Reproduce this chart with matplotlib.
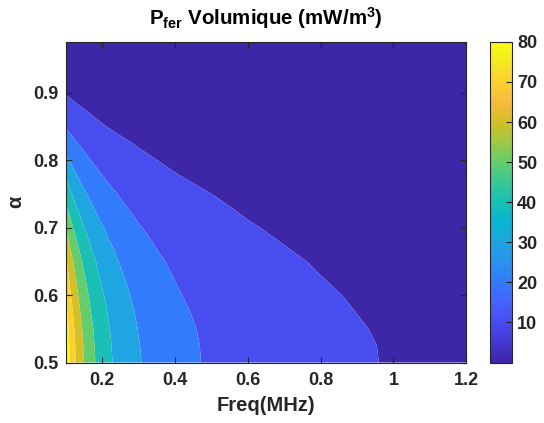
import matplotlib
matplotlib.use('Agg')
import matplotlib.pyplot as plt
import numpy as np
from matplotlib.colors import LinearSegmentedColormap, Normalize
from matplotlib.cm import ScalarMappable

# frequency (MHz) and alpha grid
freq = [0.1, 0.11, 0.12, 0.13, 0.14, 0.15, 0.17, 0.19, 0.22, 0.25, 0.3,
        0.35, 0.4, 0.5, 0.6, 0.7, 0.8, 0.9, 1.0, 1.1, 1.2]
alpha = [0.5, 0.525, 0.55, 0.575, 0.6, 0.625, 0.65, 0.675, 0.7, 0.725, 0.75,
         0.775, 0.8, 0.825, 0.85, 0.875, 0.9, 0.925, 0.95, 0.975]

# P_fer (mW/m^3), one row per alpha value
p_0500 = [88.4, 80.6, 74.1, 68.6, 63.9, 59.8, 53.0, 47.6, 41.3, 36.5, 30.7, 26.4, 23.2, 18.7, 15.7, 13.5, 11.9, 10.6, 9.6, 8.8, 8.1]
p_0525 = [87.2, 79.6, 73.2, 67.7, 63.2, 59.1, 52.4, 47.1, 40.9, 36.2, 30.3, 26.2, 23.0, 18.6, 15.6, 13.4, 11.8, 10.6, 9.5, 8.7, 8.0]
p_0550 = [85.5, 78.0, 71.8, 66.5, 61.9, 57.9, 51.4, 46.1, 40.1, 35.4, 29.7, 25.7, 22.6, 18.2, 15.3, 13.2, 11.6, 10.3, 9.35, 8.5, 7.8]
p_0575 = [82.8, 75.7, 69.6, 64.4, 59.9, 56.1, 49.7, 44.6, 38.8, 34.3, 28.7, 24.8, 21.8, 17.5, 14.7, 12.7, 11.1, 9.95, 9.0, 8.2, 7.5]
p_0600 = [79.6, 72.6, 66.7, 61.7, 57.5, 53.8, 47.6, 42.8, 37.1, 32.8, 27.5, 23.7, 20.8, 16.8, 14.1, 12.1, 10.7, 9.5, 8.6, 7.8, 7.2]
p_0625 = [75.8, 69.0, 63.4, 58.7, 54.7, 51.1, 45.3, 40.6, 35.3, 31.2, 26.1, 22.5, 19.8, 16.0, 13.4, 11.5, 10.1, 9.0, 8.2, 7.45, 6.85]
p_0650 = [71.5, 65.2, 59.9, 55.4, 51.6, 48.2, 42.7, 38.4, 33.3, 29.4, 24.6, 21.2, 18.6, 15.0, 12.6, 10.8, 9.5, 8.5, 7.7, 7.0, 6.4]
p_0675 = [65.7, 60.0, 55.1, 51.0, 47.5, 44.4, 39.3, 35.3, 30.6, 27.1, 22.7, 19.5, 17.1, 13.8, 11.6, 9.96, 8.76, 7.8, 7.05, 6.4, 5.9]
p_0700 = [59.8, 54.5, 50.1, 46.3, 43.1, 40.3, 35.7, 32.0, 27.8, 24.6, 20.6, 17.7, 15.6, 12.5, 10.5, 9.0, 7.9, 7.1, 6.4, 5.8, 5.4]
p_0725 = [53.0, 48.2, 44.4, 41.1, 38.2, 35.8, 31.7, 28.5, 24.7, 21.8, 18.3, 15.8, 13.9, 11.2, 9.4, 8.1, 7.1, 6.3, 5.7, 5.2, 4.8]
p_0750 = [46.3, 42.2, 38.9, 36.0, 33.6, 31.4, 27.9, 25.1, 21.8, 19.3, 16.2, 14.0, 12.3, 10.0, 8.4, 7.2, 6.4, 5.7, 5.2, 4.7, 4.3]
p_0775 = [39.5, 36.0, 33.1, 30.7, 28.5, 26.7, 23.7, 21.3, 18.5, 16.3, 13.7, 11.8, 10.4, 8.35, 7.0, 6.0, 5.3, 4.7, 4.3, 3.9, 3.6]
p_0800 = [32.7, 29.9, 27.5, 25.5, 23.8, 22.3, 19.8, 17.9, 15.6, 13.8, 11.6, 10.0, 8.9, 7.2, 6.1, 5.2, 4.6, 4.1, 3.7, 3.4, 3.1]
p_0825 = [25.9, 23.7, 21.9, 20.3, 19.0, 17.8, 15.8, 14.3, 12.5, 11.1, 9.4, 8.1, 7.2, 5.8, 4.9, 4.3, 3.8, 3.4, 3.1, 2.8, 2.6]
p_0850 = [19.3, 17.7, 16.4, 15.3, 14.3, 13.5, 12.1, 10.9, 9.6, 8.6, 7.3, 6.4, 5.7, 4.6, 3.9, 3.4, 3.1, 2.8, 2.5, 2.3, 2.1]
p_0875 = [14.3, 13.2, 12.2, 11.4, 10.7, 10.1, 9.0, 8.2, 7.2, 6.4, 5.5, 4.8, 4.3, 3.5, 3.0, 2.6, 2.3, 2.1, 1.9, 1.8, 1.6]
p_0900 = [9.3, 8.6, 7.9, 7.4, 7.0, 6.6, 5.9, 5.4, 4.7, 4.3, 3.6, 3.2, 2.9, 2.4, 2.0, 1.8, 1.6, 1.4, 1.3, 1.2, 1.1]
p_0925 = [5.8, 5.4, 5.0, 4.7, 4.4, 4.1, 3.7, 3.4, 3.0, 2.7, 2.3, 2.05, 1.8, 1.5, 1.3, 1.15, 1.0, 0.94, 0.86, 0.79, 0.73]
p_0950 = [3.0, 2.8, 2.6, 2.4, 2.3, 2.2, 2.0, 1.8, 1.6, 1.4, 1.2, 1.1, 1.0, 0.8, 0.7, 0.6, 0.57, 0.52, 0.48, 0.44, 0.41]
p_0975 = [1.5, 1.4, 1.3, 1.2, 1.15, 1.1, 1.0, 0.9, 0.8, 0.7, 0.6, 0.55, 0.5, 0.4, 0.35, 0.3, 0.28, 0.26, 0.24, 0.22, 0.2]

levels = [0, 10, 20, 30, 40, 50, 60, 70, 80, 100]
cbar_ticks = [10, 20, 30, 40, 50, 60, 70, 80]

# parula-like colormap
parula = LinearSegmentedColormap.from_list('parula', [
    (0.2422, 0.1504, 0.6603), (0.2706, 0.2147, 0.8364), (0.2813, 0.3006, 0.9414),
    (0.2699, 0.3892, 0.9906), (0.1963, 0.4847, 0.9892), (0.1687, 0.5703, 0.9359),
    (0.1248, 0.6459, 0.8883), (0.0297, 0.7082, 0.8163), (0.0964, 0.7500, 0.7120),
    (0.2161, 0.7843, 0.5923), (0.3909, 0.8029, 0.4354), (0.6174, 0.7876, 0.2612),
    (0.8203, 0.7498, 0.1535), (0.9728, 0.7298, 0.2394), (0.9892, 0.8136, 0.1885),
    (0.9597, 0.9135, 0.1423), (0.9769, 0.9839, 0.0805)], N=256)

plt.rcParams['font.family'] = 'Liberation Sans'
plt.rcParams['font.weight'] = 'bold'
plt.rcParams['mathtext.fontset'] = 'custom'
plt.rcParams['mathtext.rm'] = 'Liberation Sans:bold'
plt.rcParams['mathtext.bf'] = 'Liberation Sans:bold'
plt.rcParams['mathtext.default'] = 'bf'
txt = (0.15, 0.15, 0.15)

P = np.array([p_0500, p_0525, p_0550, p_0575, p_0600, p_0625, p_0650, p_0675,
              p_0700, p_0725, p_0750, p_0775, p_0800, p_0825, p_0850, p_0875,
              p_0900, p_0925, p_0950, p_0975])
norm = Normalize(0, 80)
band_colors = [parula(norm(l)) for l in levels[:-1]]

fig = plt.figure(figsize=(5.44, 4.23), dpi=100)
ax = fig.add_axes([0.121, 0.143, 0.736, 0.758])
ax.contourf(freq, alpha, P, levels=levels, colors=band_colors, antialiased=True)

ax.set_xlim(0.1, 1.2)
ax.set_ylim(0.5, 0.975)
ax.set_xticks([0.2, 0.4, 0.6, 0.8, 1.0, 1.2])
ax.set_xticklabels(['0.2', '0.4', '0.6', '0.8', '1', '1.2'])
ax.set_yticks([0.5, 0.6, 0.7, 0.8, 0.9])
ax.set_yticklabels(['0.5', '0.6', '0.7', '0.8', '0.9'])
ax.tick_params(direction='in', length=4, width=0.8, top=True, right=True,
               labelsize=13, labelcolor=txt, color=txt)
ax.tick_params(axis='x', pad=7)
ax.tick_params(axis='y', pad=5)
for s in ax.spines.values():
    s.set_color(txt)
    s.set_linewidth(0.8)
ax.set_xlabel('Freq(MHz)', fontsize=14.5, fontweight='bold', color=txt, labelpad=5)
ax.set_ylabel('α', fontsize=14.5, fontweight='bold', color=txt, labelpad=6)
ax.set_title(r'$P_{fer}$ Volumique (mW/m$^{3}$)', fontsize=14.8, fontweight='bold',
             color='black', pad=12)

cax = fig.add_axes([0.900, 0.143, 0.0404, 0.758])
sm = ScalarMappable(norm=norm, cmap=parula)
cb = fig.colorbar(sm, cax=cax, ticks=cbar_ticks)
cb.outline.set_edgecolor(txt)
cb.outline.set_linewidth(0.8)
cax.tick_params(direction='in', length=4, width=0.8, labelsize=13,
                labelcolor=txt, color=txt, pad=4)

fig.savefig('out.png', dpi=100)
